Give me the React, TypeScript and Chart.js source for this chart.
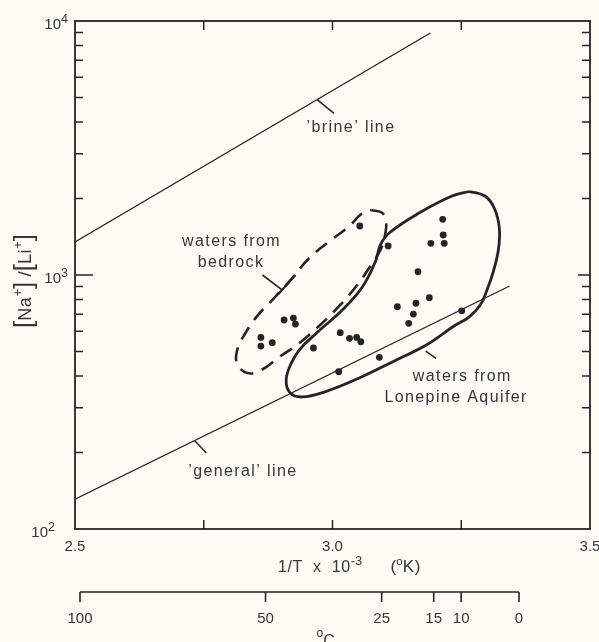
import React, { useEffect, useRef } from 'react';
import { Chart, registerables } from 'chart.js';

Chart.register(...registerables);

// ---------- data ----------
const X_RANGE = [2.5, 3.5];
const Y_RANGE = [100, 10000];
const X_LABEL_TICKS = [2.5, 3.0, 3.5];
const X_FRAME_TICKS = [2.75, 3.0, 3.25];
const Y_MAJOR_TICKS = [100, 1000, 10000];
const Y_MINOR_TICKS = [200, 300, 400, 500, 600, 700, 800, 900, 2000, 3000, 4000, 5000, 6000, 7000, 8000, 9000];
const TEMP_C_TICKS = [100, 50, 25, 15, 10, 0];
// secondary (°C) axis range, expressed in 1000/K
const TEMP_AXIS_RANGE = [2.6687, 3.8197];

const brineLine = [
  { x: 2.5, y: 1350 },
  { x: 3.19, y: 8970 },
];
const generalLine = [
  { x: 2.5, y: 131 },
  { x: 3.344, y: 905 },
];

const samples = [
  { x: 2.861, y: 568 }, { x: 2.861, y: 525 }, { x: 2.883, y: 541 },
  { x: 2.906, y: 665 }, { x: 2.924, y: 677 }, { x: 2.928, y: 641 },
  { x: 2.963, y: 516 }, { x: 3.015, y: 593 }, { x: 3.033, y: 563 },
  { x: 3.047, y: 568 }, { x: 3.055, y: 546 }, { x: 3.012, y: 416 },
  { x: 3.091, y: 474 }, { x: 3.053, y: 1559 }, { x: 3.108, y: 1301 },
  { x: 3.214, y: 1657 }, { x: 3.215, y: 1437 }, { x: 3.191, y: 1333 },
  { x: 3.217, y: 1333 }, { x: 3.166, y: 1030 }, { x: 3.188, y: 814 },
  { x: 3.162, y: 774 }, { x: 3.126, y: 750 }, { x: 3.157, y: 702 },
  { x: 3.148, y: 645 }, { x: 3.251, y: 723 },
];

const bedrockOutline = [
  { x: 3.075, y: 1803 }, { x: 3.097, y: 1754 }, { x: 3.104, y: 1617 },
  { x: 3.102, y: 1437 }, { x: 3.093, y: 1254 }, { x: 3.075, y: 1095 },
  { x: 3.048, y: 913 }, { x: 3.015, y: 762 }, { x: 2.974, y: 630 },
  { x: 2.936, y: 540 }, { x: 2.897, y: 476 }, { x: 2.862, y: 423 },
  { x: 2.835, y: 411 }, { x: 2.815, y: 446 }, { x: 2.815, y: 507 },
  { x: 2.831, y: 591 }, { x: 2.854, y: 690 }, { x: 2.887, y: 812 },
  { x: 2.922, y: 973 }, { x: 2.955, y: 1167 }, { x: 3.000, y: 1386 },
  { x: 3.033, y: 1559 }, { x: 3.056, y: 1739 }, { x: 3.075, y: 1803 },
];

const lonepineOutline = [
  { x: 3.265, y: 2132 }, { x: 3.296, y: 2047 }, { x: 3.314, y: 1836 },
  { x: 3.324, y: 1531 }, { x: 3.322, y: 1254 }, { x: 3.312, y: 1027 },
  { x: 3.300, y: 873 }, { x: 3.287, y: 762 }, { x: 3.265, y: 683 },
  { x: 3.236, y: 630 }, { x: 3.182, y: 530 }, { x: 3.124, y: 463 },
  { x: 3.052, y: 393 }, { x: 2.984, y: 346 }, { x: 2.941, y: 331 },
  { x: 2.918, y: 343 }, { x: 2.910, y: 386 }, { x: 2.920, y: 450 },
  { x: 2.937, y: 511 }, { x: 2.969, y: 591 }, { x: 3.019, y: 728 },
  { x: 3.058, y: 897 }, { x: 3.083, y: 1125 }, { x: 3.093, y: 1313 },
  { x: 3.110, y: 1463 }, { x: 3.168, y: 1754 }, { x: 3.232, y: 2047 },
  { x: 3.265, y: 2132 },
];

// leader marks that tie the labels to lines / outlines
const brineLeader = [{ x: 2.970, y: 4900 }, { x: 3.003, y: 4330 }];
const generalLeader = [{ x: 2.732, y: 223 }, { x: 2.755, y: 199 }];
const bedrockLeader = [{ x: 2.864, y: 1000 }, { x: 2.902, y: 873 }];
const bedrockLeaderBar = [{ x: 2.895, y: 842 }, { x: 2.928, y: 1000 }];
const lonepineLeader = [{ x: 3.181, y: 502 }, { x: 3.201, y: 470 }];

const labelTexts = ['\u2019brine\u2019 line', '\u2019general\u2019 line', 'waters from', 'bedrock', 'waters from', 'Lonepine Aquifer'];
const labelAnchors = [
  { x: 3.036, y: 3860 },
  { x: 2.826, y: 171 },
  { x: 2.804, y: 1373 },
  { x: 2.803, y: 1135 },
  { x: 3.252, y: 404 },
  { x: 3.240, y: 334 },
];

// ---------- styling ----------
const INK = '#242424';
const TEXT = '#353535';
const PAPER = '#fcfcf4';
const FONT = '"Liberation Sans", Arial, Helvetica, sans-serif';

type Run = { t: string; size: number; dy?: number; ls?: number };

function drawRuns(ctx: CanvasRenderingContext2D, runs: Run[], x: number, y: number, align: 'left' | 'center' | 'right') {
  const widths = runs.map((r) => {
    ctx.font = `${r.size}px ${FONT}`;
    (ctx as any).letterSpacing = `${r.ls ?? 0}px`;
    return ctx.measureText(r.t).width;
  });
  const total = widths.reduce((a, b) => a + b, 0);
  let cx = align === 'left' ? x : align === 'center' ? x - total / 2 : x - total;
  ctx.textAlign = 'left';
  ctx.textBaseline = 'alphabetic';
  runs.forEach((r, i) => {
    ctx.font = `${r.size}px ${FONT}`;
    (ctx as any).letterSpacing = `${r.ls ?? 0}px`;
    ctx.fillText(r.t, cx, y + (r.dy ?? 0));
    cx += widths[i];
  });
  (ctx as any).letterSpacing = '0px';
}

const paperPlugin = {
  id: 'paper',
  beforeDraw(chart: any) {
    const { ctx, width, height } = chart;
    ctx.save();
    ctx.fillStyle = PAPER;
    ctx.fillRect(0, 0, width, height);
    ctx.restore();
  },
};

const axesPlugin = {
  id: 'handAxes',
  afterDraw(chart: any) {
    const { ctx, chartArea } = chart;
    const { left, right, top, bottom } = chartArea;
    const xs = chart.scales.x;
    const ys = chart.scales.y;
    const ts = chart.scales.xC;
    ctx.save();
    ctx.strokeStyle = INK;
    ctx.fillStyle = TEXT;
    ctx.lineCap = 'butt';

    // frame
    ctx.lineWidth = 1.8;
    ctx.strokeRect(left, top, right - left, bottom - top);

    // x frame ticks (bottom up, top down)
    ctx.lineWidth = 1.5;
    ctx.beginPath();
    X_FRAME_TICKS.forEach((v) => {
      const px = xs.getPixelForValue(v);
      ctx.moveTo(px, bottom);
      ctx.lineTo(px, bottom - 9);
      ctx.moveTo(px, top);
      ctx.lineTo(px, top + 9);
    });
    // y ticks
    Y_MINOR_TICKS.forEach((v) => {
      const py = ys.getPixelForValue(v);
      ctx.moveTo(left, py);
      ctx.lineTo(left + 8, py);
      ctx.moveTo(right, py);
      ctx.lineTo(right - 8, py);
    });
    Y_MAJOR_TICKS.slice(1, -1).forEach((v) => {
      const py = ys.getPixelForValue(v);
      ctx.moveTo(left, py);
      ctx.lineTo(left + 18, py);
      ctx.moveTo(right, py);
      ctx.lineTo(right - 12, py);
    });
    ctx.stroke();

    // x tick labels
    X_LABEL_TICKS.forEach((v) => {
      const px = xs.getPixelForValue(v);
      drawRuns(ctx, [{ t: v.toFixed(1), size: 15 }], px, bottom + 22, 'center');
    });

    // y tick labels 10^n
    Y_MAJOR_TICKS.forEach((v) => {
      const py = ys.getPixelForValue(v);
      const e = Math.round(Math.log10(v));
      drawRuns(
        ctx,
        [
          { t: '10', size: 15 },
          { t: String(e), size: 12.5, dy: -6 },
        ],
        left - (v === Y_RANGE[0] ? 20 : 7),
        py + 8,
        'right'
      );
    });

    // x title
    drawRuns(
      ctx,
      [
        { t: '1/T  x  10', size: 16, ls: 0.6 },
        { t: '-3', size: 13, dy: -7 },
        { t: '      (', size: 17 },
        { t: 'o', size: 11.5, dy: -7 },
        { t: 'K)', size: 17, ls: 0.8 },
      ],
      xs.getPixelForValue(2.9) - 3,
      bottom + 43,
      'left'
    );

    // y title (rotated)
    ctx.save();
    ctx.translate(24.5, ys.getPixelForValue(1000) + 6);
    ctx.rotate(-Math.PI / 2);
    drawRuns(
      ctx,
      [
        { t: '[', size: 26, dy: 1 },
        { t: 'Na', size: 18, ls: 0.6 },
        { t: '+', size: 13, dy: -9 },
        { t: ']', size: 26, dy: 1 },
        { t: ' /', size: 19 },
        { t: '[', size: 26, dy: 1 },
        { t: 'Li', size: 18, ls: 0.6 },
        { t: '+', size: 13, dy: -9 },
        { t: ']', size: 26, dy: 1 },
      ],
      0,
      6.5,
      'center'
    );
    ctx.restore();

    // secondary temperature axis (°C), positioned through its own scale
    const tPix = TEMP_C_TICKS.map((c) => ts.getPixelForValue(1000 / (c + 273.15)));
    const axisY = bottom + 63;
    ctx.lineWidth = 1.6;
    ctx.beginPath();
    ctx.moveTo(Math.min(...tPix), axisY);
    ctx.lineTo(Math.max(...tPix), axisY);
    tPix.forEach((px) => {
      ctx.moveTo(px, axisY);
      ctx.lineTo(px, axisY + 10);
    });
    ctx.stroke();
    TEMP_C_TICKS.forEach((c, i) => {
      drawRuns(ctx, [{ t: String(c), size: 15 }], tPix[i], axisY + 31, 'center');
    });
    drawRuns(
      ctx,
      [
        { t: 'o', size: 12, dy: -9 },
        { t: 'C', size: 16 },
      ],
      (ts.getPixelForValue(1000 / 323.15) + ts.getPixelForValue(1000 / 298.15)) / 2 + 2,
      axisY + 54,
      'center'
    );

    // annotation labels
    labelTexts.forEach((t, i) => {
      const a = labelAnchors[i];
      const px = xs.getPixelForValue(a.x);
      const py = ys.getPixelForValue(a.y);
      drawRuns(ctx, [{ t, size: 16, ls: 1.4 }], px, py + 6, 'center');
    });

    ctx.restore();
  },
};

const thinLine = (data: any[], width = 1.3) => ({
  type: 'line' as const,
  data,
  borderColor: INK,
  borderWidth: width,
  pointRadius: 0,
  tension: 0,
  fill: false,
  order: 3,
});

export default function App() {
  const ref = useRef<HTMLCanvasElement>(null);

  useEffect(() => {
    document.body.style.margin = '0';
    document.body.style.background = PAPER;
    const canvas = ref.current!;
    const chart = new Chart(canvas, {
      type: 'scatter',
      data: {
        datasets: [
          thinLine(brineLine, 1.3),
          thinLine(generalLine, 1.3),
          thinLine(brineLeader, 1.5),
          thinLine(generalLeader, 1.5),
          thinLine(bedrockLeader, 1.6),
          thinLine(bedrockLeaderBar, 2.2),
          thinLine(lonepineLeader, 1.5),
          {
            type: 'line',
            data: bedrockOutline,
            borderColor: INK,
            borderWidth: 2.6,
            borderDash: [14, 9],
            pointRadius: 0,
            tension: 0.4,
            fill: false,
            order: 2,
          },
          {
            type: 'line',
            data: lonepineOutline,
            borderColor: INK,
            borderWidth: 2.8,
            pointRadius: 0,
            tension: 0.4,
            fill: false,
            order: 2,
          },
          {
            type: 'scatter',
            data: samples,
            backgroundColor: INK,
            borderColor: INK,
            borderWidth: 0,
            pointRadius: 3.4,
            order: 1,
          },
        ] as any,
      },
      options: {
        animation: false,
        responsive: false,
        maintainAspectRatio: false,
        devicePixelRatio: 1,
        layout: { padding: { left: 75, right: 9, top: 21, bottom: 113 } },
        plugins: { legend: { display: false }, tooltip: { enabled: false } },
        scales: {
          x: { type: 'linear', min: X_RANGE[0], max: X_RANGE[1], display: false },
          y: { type: 'logarithmic', min: Y_RANGE[0], max: Y_RANGE[1], display: false },
          xC: { type: 'linear', axis: 'x', position: 'bottom', min: TEMP_AXIS_RANGE[0], max: TEMP_AXIS_RANGE[1], display: false },
        },
      } as any,
      plugins: [paperPlugin, axesPlugin],
    });
    return () => chart.destroy();
  }, []);

  return (
    <div style={{ position: 'fixed', left: 0, top: 0, width: 599, height: 642, background: PAPER }}>
      <canvas ref={ref} width={599} height={642} style={{ display: 'block', width: 599, height: 642 }} />
    </div>
  );
}
